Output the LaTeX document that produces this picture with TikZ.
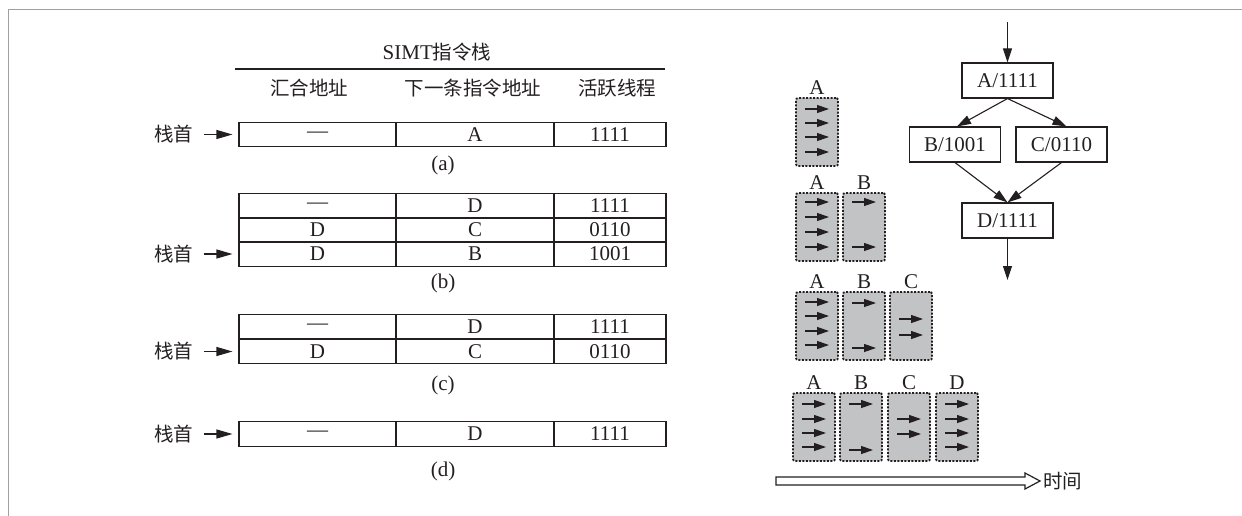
\documentclass[tikz,border=0pt]{standalone}
\usepackage{fontspec}
\setmainfont{Liberation Serif}
\newfontfamily\cjk{Noto Sans CJK SC}
\usetikzlibrary{arrows.meta,calc}
\definecolor{ink}{HTML}{231F20}
\definecolor{warpgray}{HTML}{C2C3C5}
\definecolor{framegray}{HTML}{A0A0A0}
\begin{document}
\begin{tikzpicture}[x=1pt,y=-1pt,
  every node/.style={text=ink,font=\fontsize{21}{23}\selectfont},
  cjkt/.style={font=\fontsize{19.5}{21}\selectfont\cjk},
  cell/.style={draw=ink,line width=1.1pt,minimum height=24.5pt,inner sep=0pt,anchor=center},
  colone/.style={cell,minimum width=157pt},
  coltwo/.style={cell,minimum width=158pt},
  colthree/.style={cell,minimum width=112pt},
  toparr/.style={draw=ink,line width=1.1pt,-{Triangle[length=16pt,width=9pt]},shorten <=7pt,shorten >=6pt},
  flowbox/.style={draw=ink,line width=1.1pt,minimum width=91pt,minimum height=35pt,inner sep=0pt},
  flowarr/.style={draw=ink,line width=1.1pt,-{Triangle[length=14pt,width=9pt]}},
  wbox/.style={draw=ink,fill=warpgray,line width=1.8pt,dash pattern=on 2pt off 1.5pt,rounded corners=2pt,minimum width=42pt,minimum height=68pt,inner sep=0pt},
  tarr/.style={draw=ink,line width=1.2pt,-{Triangle[length=12pt,width=8pt]}}
]
\useasboundingbox (0,0) rectangle (1242,516);
% frame
\draw[framegray,line width=1pt] (8,516) -- (8,10) -- (1242,10);

% header
\node (title) at (437,52) {SIMT{\cjk\fontsize{19.5}{21}\selectfont 指令栈}};
\coordinate (rl) at (235,69);
\coordinate (rr) at (665,69);
\draw[ink,line width=1.1pt] (rl) -- (rr);
\node[cjkt] (h1) at (309,88) {汇合地址};
\node[cjkt] (h2) at (473,88) {下一条指令地址};
\node[cjkt] (h3) at (617,88) {活跃线程};

% (a)
\node[colone] (a1) at (317.5,134.5) {—};
\node[coltwo] (a2) at (475,134.5) {A};
\node[colthree] (a3) at (610,134.5) {1111};
\node (capa) at (443,165) {(a)};
\node[cjkt] (sa) at (173.5,134.5) {栈首};
\draw[toparr] (sa.east) -- (a1.west);

% (b)
\node[colone] (b11) at (317.5,206) {—};
\node[coltwo] (b12) at (475,206) {D};
\node[colthree] (b13) at (610,206) {1111};
\node[colone] (b21) at (317.5,230) {D};
\node[coltwo] (b22) at (475,230) {C};
\node[colthree] (b23) at (610,230) {0110};
\node[colone] (b31) at (317.5,254) {D};
\node[coltwo] (b32) at (475,254) {B};
\node[colthree] (b33) at (610,254) {1001};
\node (capb) at (443,283) {(b)};
\node[cjkt] (sb) at (173.5,254) {栈首};
\draw[toparr] (sb.east) -- (b31.west);

% (c)
\node[colone] (c11) at (317.5,326.5) {—};
\node[coltwo] (c12) at (475,326.5) {D};
\node[colthree] (c13) at (610,326.5) {1111};
\node[colone] (c21) at (317.5,351.5) {D};
\node[coltwo] (c22) at (475,351.5) {C};
\node[colthree] (c23) at (610,351.5) {0110};
\node (capc) at (443,385) {(c)};
\node[cjkt] (sc) at (173.5,351.5) {栈首};
\draw[toparr] (sc.east) -- (c21.west);

% (d)
\node[colone] (d1) at (317.5,434) {—};
\node[coltwo] (d2) at (475,434) {D};
\node[colthree] (d3) at (610,434) {1111};
\node (capd) at (443,471) {(d)};
\node[cjkt] (sd) at (173.5,434) {栈首};
\draw[toparr] (sd.east) -- (d1.west);

% flow chart
\node[flowbox] (fA) at (1007.5,80.5) {A/1111};
\node[flowbox] (fB) at (955,144.5) {B/1001};
\node[flowbox] (fC) at (1061.5,144.5) {C/0110};
\node[flowbox] (fD) at (1007.5,220.5) {D/1111};
\coordinate (fin) at (1007.5,22);
\coordinate (fout) at (1007.5,280);
\draw[flowarr] (fin) -- (fA.north);
\draw[flowarr] (fA.south) -- ($(fB.north)+(2,0)$);
\draw[flowarr] (fA.south) -- ($(fC.north)+(5,0)$);
\draw[flowarr] (fB.south) -- (fD.north);
\draw[flowarr] (fC.south) -- (fD.north);
\draw[flowarr] (fD.south) -- (fout);

% warp boxes
\newcommand{\warpbox}[5]{%
  \node[wbox] (#1) at (#2+21,#3+34) {};
  \node (#1l) at (#2+21,#3-10) {#4};
  \foreach \dy in {#5} \draw[tarr] (#2+9,#3+\dy) -- ++(24,0);
}
\warpbox{gA}{796}{98}{A}{11,25,39,54}
\warpbox{gbA}{796}{193}{A}{9,24,39,54}
\warpbox{gbB}{843}{193}{B}{9,54}
\warpbox{gcA}{796}{292}{A}{10,24,39,53}
\warpbox{gcB}{843}{292}{B}{11,56}
\warpbox{gcC}{890}{292}{C}{27,43}
\warpbox{gdA}{793}{393}{A}{11,26,40,54}
\warpbox{gdB}{840}{393}{B}{11,57}
\warpbox{gdC}{888}{393}{C}{26,41}
\warpbox{gdD}{936}{393}{D}{11,26,40,54}

% time arrow
\draw[ink,line width=1.2pt,fill=white] (776,477) -- (1025,477) -- (1025,473) -- (1040,481) -- (1025,489) -- (1025,485) -- (776,485) -- cycle;
\node[cjkt,anchor=west,inner sep=0pt] (time) at (1043,481) {时间};
\end{tikzpicture}
\end{document}
